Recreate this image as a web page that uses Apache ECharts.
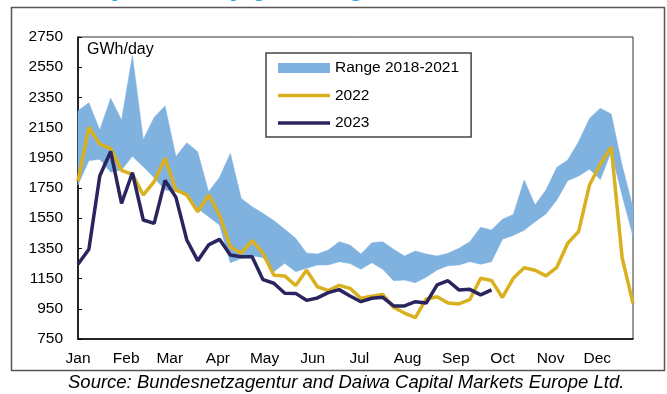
<!DOCTYPE html>
<html>
<head>
<meta charset="utf-8">
<script src="https://cdn.jsdelivr.net/npm/echarts@6/dist/echarts.min.js"></script>
<style>
  html, body { margin: 0; padding: 0; background: #fff; }
  #chart { width: 667px; height: 394px; }
</style>
</head>
<body>
<div id="chart"></div>
<script>
// Month labels and the day of year each month starts on
const monthLabels = ['Jan', 'Feb', 'Mar', 'Apr', 'May', 'Jun', 'Jul', 'Aug', 'Sep', 'Oct', 'Nov', 'Dec'];
const monthStartDays = [0, 31, 59, 90, 120, 151, 181, 212, 243, 273, 304, 334];

// Weekly observations, as day of year of each week
const weekDays = [0, 7, 14, 21, 28, 35, 42, 49, 56, 63, 70, 77, 84, 91, 98, 105, 112, 119, 126,
  133, 140, 147, 154, 161, 168, 175, 182, 189, 196, 203, 210, 217, 224, 231, 238, 245, 252,
  259, 266, 273, 280, 287, 294, 301, 308, 315, 322, 329, 336, 343, 350, 357];

// Range 2018-2021, weekly minimum and maximum (GWh/day)
const rangeLow = [1770, 1931, 1940, 1855, 1869, 1960, 1891, 1818, 1737, 1725, 1714, 1615, 1560,
  1505, 1255, 1284, 1300, 1290, 1196, 1251, 1196, 1218, 1240, 1240, 1262, 1250, 1212, 1255,
  1212, 1136, 1140, 1123, 1159, 1207, 1235, 1240, 1262, 1245, 1262, 1410, 1436, 1470, 1527,
  1578, 1671, 1798, 1829, 1874, 1806, 1990, 1700, 1430];
const rangeHigh = [2262, 2315, 2134, 2344, 2200, 2628, 2072, 2218, 2293, 1958, 2050, 1990, 1725,
  1820, 1980, 1681, 1626, 1582, 1534, 1476, 1417, 1320, 1313, 1339, 1394, 1372, 1313, 1388,
  1394, 1344, 1300, 1333, 1313, 1300, 1318, 1351, 1394, 1490, 1472, 1543, 1575, 1803, 1637,
  1737, 1887, 1935, 2057, 2211, 2278, 2240, 1900, 1620];

// 2022 and 2023 weekly values (GWh/day)
const gas2022 = [1795, 2152, 2040, 2010, 1867, 1840, 1704, 1792, 1947, 1737, 1704, 1593, 1704,
  1571, 1361, 1318, 1402, 1318, 1172, 1168, 1104, 1205, 1096, 1070, 1105, 1085, 1020, 1033,
  1045, 960, 922, 891, 1015, 1030, 988, 982, 1010, 1152, 1138, 1025, 1152, 1222, 1205, 1168,
  1225, 1384, 1461, 1770, 1909, 2020, 1289, 986];
const gas2023 = [1245, 1344, 1829, 1992, 1648, 1851, 1538, 1516, 1800, 1688, 1406, 1269, 1373,
  1410, 1306, 1295, 1295, 1143, 1119, 1053, 1052, 1006, 1022, 1057, 1077, 1035, 997, 1020,
  1026, 969, 969, 997, 988, 1108, 1136, 1075, 1079, 1042, 1075];

const yTicks = { min: 750, max: 2750, step: 200 };

const FONT = '"Liberation Sans", Arial, sans-serif';
const BAND = '#80B2E0';
const GOLD = '#D9B01E';
const NAVY = '#2A255E';
// Flat bar used as the legend swatch of the line series
const LINE_ICON = 'path://M0,0H52V3.5H0Z';

const chart = echarts.init(document.getElementById('chart'), null, { renderer: 'canvas' });

const option = {
  backgroundColor: '#fff',
  animation: false,
  grid: {
    left: 78, top: 37, right: 34, bottom: 55,
    show: true, borderColor: '#333', borderWidth: 1
  },
  xAxis: {
    type: 'value',
    min: 0,
    max: weekDays[weekDays.length - 1],
    splitLine: { show: false },
    axisLine: { show: true, onZero: false, lineStyle: { color: '#000', width: 1.5 } },
    axisTick: { show: false },
    axisLabel: {
      customValues: monthStartDays,
      formatter: v => monthLabels[monthStartDays.indexOf(v)] || '',
      margin: 12, color: '#000', fontSize: 15.5, fontFamily: FONT
    }
  },
  yAxis: {
    type: 'value',
    min: yTicks.min, max: yTicks.max, interval: yTicks.step,
    splitLine: { show: false },
    axisLine: { show: true, onZero: false, lineStyle: { color: '#000', width: 1.5 } },
    axisTick: { show: true, inside: true, length: 4, lineStyle: { color: '#000', width: 1 } },
    axisLabel: {
      formatter: v => String(v),
      margin: 15, color: '#000', fontSize: 15.5, fontFamily: FONT
    }
  },
  legend: {
    orient: 'vertical',
    left: 266, top: 53,
    padding: [7, 12, 6, 12],
    itemGap: 11.5,
    itemWidth: 52, itemHeight: 10,
    symbolKeepAspect: true,
    borderColor: '#444', borderWidth: 1.5,
    backgroundColor: '#fff',
    textStyle: { fontSize: 15.5, color: '#000', fontFamily: FONT, lineHeight: 16 },
    data: [
      { name: 'Range 2018-2021', icon: 'rect', itemStyle: { color: BAND, borderWidth: 0 } },
      { name: '2022', icon: LINE_ICON, itemStyle: { color: GOLD, borderWidth: 0 } },
      { name: '2023', icon: LINE_ICON, itemStyle: { color: NAVY, borderWidth: 0 } }
    ]
  },
  graphic: [
    {
      type: 'rect', silent: true, z: -10,
      shape: { x: 11.5, y: 7.5, width: 653, height: 363 },
      style: { fill: 'none', stroke: '#555', lineWidth: 1.5 }
    },
    {
      type: 'text', silent: true,
      x: 13, y: -11.5,
      style: {
        text: 'Germany: Industry gas usage',
        font: 'bold 26px ' + FONT,
        fill: '#1AA3E8',
        verticalAlign: 'middle'
      }
    },
    {
      type: 'text', silent: true,
      x: 87, y: 50,
      style: { text: 'GWh/day', font: '16px ' + FONT, fill: '#000', verticalAlign: 'middle' }
    },
    {
      type: 'text', silent: true,
      x: 68, y: 383,
      style: {
        text: 'Source: Bundesnetzagentur and Daiwa Capital Markets Europe Ltd.',
        font: 'italic 18.5px ' + FONT,
        fill: '#000',
        verticalAlign: 'middle'
      }
    }
  ],
  series: [
    {
      name: 'Range 2018-2021',
      type: 'custom',
      z: 1,
      itemStyle: { color: BAND },
      encode: { x: 0, y: [1, 2] },
      data: weekDays.map((d, i) => [d, rangeLow[i], rangeHigh[i]]),
      renderItem: function (params, api) {
        if (params.dataIndex !== 0) return null;
        const upper = [];
        const lower = [];
        for (let i = 0; i < weekDays.length; i++) {
          upper.push(api.coord([weekDays[i], rangeHigh[i]]));
          lower.push(api.coord([weekDays[i], rangeLow[i]]));
        }
        return {
          type: 'polygon',
          shape: { points: upper.concat(lower.reverse()) },
          style: { fill: BAND, stroke: BAND, lineWidth: 0.5 }
        };
      }
    },
    {
      name: '2022',
      type: 'line',
      z: 3,
      symbol: 'none',
      itemStyle: { color: GOLD },
      lineStyle: { color: GOLD, width: 3.5 },
      data: gas2022.map((v, i) => [weekDays[i], v])
    },
    {
      name: '2023',
      type: 'line',
      z: 4,
      symbol: 'none',
      itemStyle: { color: NAVY },
      lineStyle: { color: NAVY, width: 3.5 },
      data: gas2023.map((v, i) => [weekDays[i], v])
    }
  ]
};

chart.setOption(option);
</script>
</body>
</html>
